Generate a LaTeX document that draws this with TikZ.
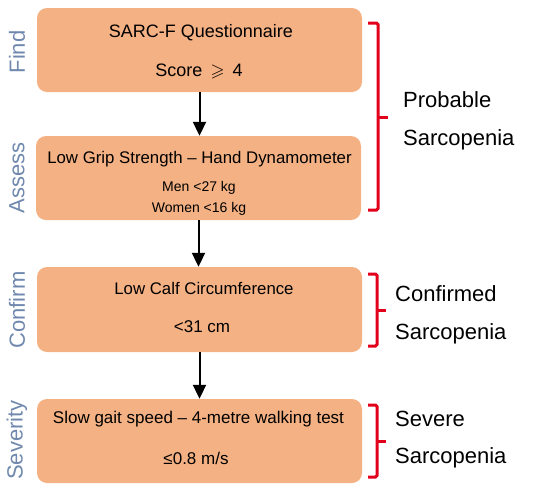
\documentclass[tikz,border=0pt]{standalone}
\usepackage{fontspec}
\usepackage{amssymb}
\setmainfont{Liberation Sans}
\usetikzlibrary{arrows.meta}
\definecolor{boxfill}{HTML}{F4B183}
\definecolor{brred}{HTML}{E3001B}
\definecolor{stepblue}{HTML}{7088AE}
\tikzset{
  stepbox/.style={fill=boxfill, rounded corners=10pt, minimum width=325pt, minimum height=84pt, inner sep=0pt},
  maintext/.style={font=\fontsize{17}{20}\selectfont, inner sep=0pt},
  bigtext/.style={font=\fontsize{18}{21}\selectfont, inner sep=0pt},
  smalltext/.style={font=\fontsize{14}{16}\selectfont, inner sep=0pt},
  sidelabel/.style={font=\fontsize{22}{26}\selectfont, text=stepblue, rotate=90, inner sep=0pt},
  rightlabel/.style={font=\fontsize{22}{26}\selectfont, anchor=west, inner sep=0pt},
  arr/.style={line width=2pt, -{Triangle[length=14pt,width=13pt]}},
  bracket/.style={draw=brred, line width=3pt, rounded corners=1.5pt}
}
\begin{document}
\begin{tikzpicture}[x=1pt,y=-1pt]
\useasboundingbox (0,0) rectangle (550,491);
% boxes
\node[stepbox] (b1) at (199.5,50) {};
\node[stepbox] (b2) at (198.5,178) {};
\node[stepbox, minimum height=85pt] (b3) at (199.5,309.5) {};
\node[stepbox] (b4) at (199.5,441) {};
% texts
\node[bigtext] (t1a) at (201,33) {SARC-F Questionnaire};
\node[bigtext] (t1b) at (199,71) {Score \,$\geqslant$\, 4};
\node[maintext, font=\fontsize{16.8}{20}\selectfont] (t2a) at (199.5,159) {Low Grip Strength – Hand Dynamometer};
\node[smalltext] (t2b) at (199,188) {Men <27 kg};
\node[smalltext] (t2c) at (199,209) {Women <16 kg};
\node[maintext, font=\fontsize{16.8}{20}\selectfont] (t3a) at (204,288) {Low Calf Circumference};
\node[maintext] (t3b) at (202,327) {<31 cm};
\node[maintext] (t4a) at (198.5,419) {Slow gait speed – 4-metre walking test};
\node[maintext] (t4b) at (196,458) {≤0.8 m/s};
% side labels
\node[sidelabel] (l1) at (17,52) {Find};
\node[sidelabel] (l2) at (17,178) {Assess};
\node[sidelabel] (l3) at (17,310) {Confirm};
\node[sidelabel] (l4) at (17,440) {Severity};
% arrows
\draw[arr] (b1.south) -- (b1.south |- b2.north);
\draw[arr] (b2.south) -- (b2.south |- b3.north);
\draw[arr] (b3.south) -- (b4.north);
% brackets
\draw[bracket] (368,23) -- (378,23) -- (378,210) -- (368,210);
\draw[bracket] (378,117) -- (388,117);
\draw[bracket] (368,274) -- (377,274) -- (377,346) -- (368,346);
\draw[bracket] (377,310) -- (386,310);
\draw[bracket] (368,405) -- (377,405) -- (377,477) -- (368,477);
\draw[bracket] (377,441) -- (386,441);
% right labels
\node[rightlabel] (r1a) at (403,100) {Probable};
\node[rightlabel] (r1b) at (403,140) {Sarcopenia};
\node[rightlabel] (r2a) at (395,294) {Confirmed};
\node[rightlabel] (r2b) at (395,334) {Sarcopenia};
\node[rightlabel] (r3a) at (395,419) {Severe};
\node[rightlabel] (r3b) at (395,458) {Sarcopenia};
\end{tikzpicture}
\end{document}
